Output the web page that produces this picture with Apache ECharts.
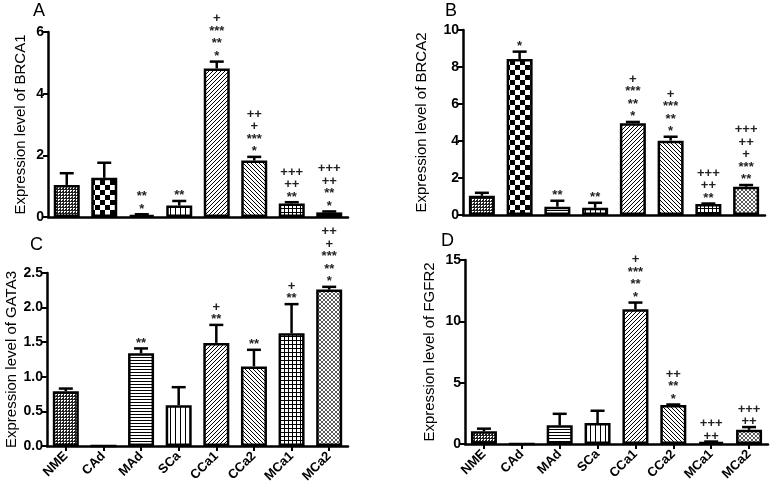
<!DOCTYPE html>
<html>
<head>
<meta charset="utf-8">
<script src="https://cdn.jsdelivr.net/npm/echarts@6/dist/echarts.min.js"></script>
<style>html,body{margin:0;padding:0;background:#fff}#c{width:774px;height:493px}</style>
</head>
<body>
<div id="c"></div>
<script>
const categories = ['NME','CAd','MAd','SCa','CCa1','CCa2','MCa1','MCa2'];

const brca1Mean = [1.04, 1.27, 0.06, 0.37, 4.82, 1.83, 0.44, 0.15];
const brca1ErrTop = [1.42, 1.76, 0.09, 0.52, 5.04, 1.95, 0.48, 0.18];
const brca1Sig = [[], [], ['**','*'], ['**'], ['+','***','**','*'], ['++','+','***','*'], ['+++','++','**'], ['+++','++','**','*']];

const brca2Mean = [1.04, 8.43, 0.45, 0.39, 4.96, 4.02, 0.59, 1.53];
const brca2ErrTop = [1.2, 8.83, 0.77, 0.66, 5.03, 4.23, 0.62, 1.62];
const brca2Sig = [[], ['*'], ['**'], ['**'], ['+','***','**','*'], ['+','***','**','*'], ['+++','++','**'], ['+++','++','+','***','**']];

const gata3Mean = [0.79, 0.0, 1.34, 0.59, 1.49, 1.15, 1.63, 2.26];
const gata3ErrTop = [0.83, 0.0, 1.41, 0.85, 1.75, 1.39, 2.05, 2.30];
const gata3Sig = [[], [], ['**'], [], ['+','**'], ['**'], ['+','**'], ['++','+','***','**','*']];

const fgfr2Mean = [1.03, 0.0, 1.52, 1.71, 10.98, 3.17, 0.16, 1.16];
const fgfr2ErrTop = [1.25, 0.0, 2.46, 2.71, 11.53, 3.22, 0.2, 1.38];
const fgfr2Sig = [[], [], [], [], ['+','***','**','*'], ['++','**','*'], ['+++','++'], ['+++','++']];

const yNames = ['Expression level of BRCA1','Expression level of BRCA2','Expression level of GATA3','Expression level of FGFR2'];
const yMax = [6, 10, 2.5, 15];
const yInterval = [2, 2, 0.5, 5];
const panelLetters = ['A','B','C','D'];

function mk(w, h, draw) {
  const c = document.createElement('canvas');
  c.width = w; c.height = h;
  const g = c.getContext('2d');
  g.fillStyle = '#fff'; g.fillRect(0, 0, w, h);
  g.fillStyle = '#000'; g.strokeStyle = '#000';
  draw(g, w, h);
  return { image: c, repeat: 'repeat' };
}
const patterns = [
  mk(3, 3, g => { g.fillStyle = '#222'; g.fillRect(0,0,3,1); g.fillRect(0,0,1,3); g.fillRect(2,2,1,1); }),
  mk(10, 10, g => { g.fillRect(0,0,5,5); g.fillRect(5,5,5,5); }),
  mk(4, 3, g => { g.fillRect(0,0,4,1); }),
  mk(5, 4, g => { g.fillRect(0,0,1,4); }),
  mk(4, 4, g => { g.lineWidth = 1; g.beginPath(); g.moveTo(-1,5); g.lineTo(5,-1); g.moveTo(-1,1); g.lineTo(1,-1); g.moveTo(3,5); g.lineTo(5,3); g.stroke(); }),
  mk(4, 4, g => { g.lineWidth = 1; g.beginPath(); g.moveTo(-1,-1); g.lineTo(5,5); g.moveTo(3,-1); g.lineTo(5,1); g.moveTo(-1,3); g.lineTo(1,5); g.stroke(); }),
  mk(4, 4, g => { g.fillRect(0,0,4,1); g.fillRect(0,0,1,4); }),
  mk(4, 4, g => { g.strokeStyle = '#333'; g.lineWidth = 0.8; g.beginPath();
    g.moveTo(-1,5); g.lineTo(5,-1); g.moveTo(-1,1); g.lineTo(1,-1); g.moveTo(3,5); g.lineTo(5,3);
    g.moveTo(-1,-1); g.lineTo(5,5); g.moveTo(3,-1); g.lineTo(5,1); g.moveTo(-1,3); g.lineTo(1,5); g.stroke(); })
];

const means = [brca1Mean, brca2Mean, gata3Mean, fgfr2Mean];
const errTops = [brca1ErrTop, brca2ErrTop, gata3ErrTop, fgfr2ErrTop];
const sigs = [brca1Sig, brca2Sig, gata3Sig, fgfr2Sig];

const grids = [
  { left: 48, top: 32, width: 300, height: 185 },
  { left: 463, top: 30, width: 302, height: 185 },
  { left: 47, top: 273, width: 301, height: 173 },
  { left: 465, top: 260, width: 303, height: 184 }
];
const nameGaps = [20, 34, 27, 28];

const font = 'Liberation Sans, Arial, sans-serif';
const xAxes = [], yAxes = [], series = [];
for (let p = 0; p < 4; p++) {
  const bottom = p >= 2;
  xAxes.push({
    type: 'category', gridIndex: p, data: categories,
    axisLine: { lineStyle: { color: '#000', width: 2.5 } },
    axisTick: { show: bottom, alignWithLabel: true, length: 5, lineStyle: { color: '#000', width: 2 } },
    axisLabel: { show: bottom, rotate: 45, margin: 8, color: '#000', fontWeight: 'bold', fontSize: 13, fontFamily: font, interval: 0 }
  });
  yAxes.push({
    type: 'value', gridIndex: p, min: 0, max: yMax[p], interval: yInterval[p],
    name: yNames[p], nameLocation: 'middle', nameGap: nameGaps[p],
    nameTextStyle: { color: '#000', fontSize: 15, fontFamily: font },
    splitLine: { show: false },
    axisLine: { show: true, lineStyle: { color: '#000', width: 2.5 } },
    axisTick: { show: true, length: 5, lineStyle: { color: '#000', width: 2 } },
    axisLabel: { color: '#000', fontWeight: 'bold', fontSize: 14, fontFamily: font, margin: 4,
      formatter: v => p === 2 ? v.toFixed(1) : String(v) }
  });
  series.push({
    type: 'bar', xAxisIndex: p, yAxisIndex: p, barWidth: 26, z: 2,
    data: means[p].map((v, i) => ({ value: v, itemStyle: { color: patterns[i] } })),
    itemStyle: { borderColor: '#000', borderWidth: 2.5 },
    emphasis: { disabled: true }, animation: false
  });
  const sg = sigs[p];
  series.push({
    type: 'custom', xAxisIndex: p, yAxisIndex: p, z: 5, animation: false,
    data: means[p].map((v, i) => [i, v, errTops[p][i]]),
    encode: { x: 0, y: 2 },
    renderItem: (params, api) => {
      const i = api.value(0), m = api.value(1), e = api.value(2);
      const p0 = api.coord([i, m]), p1 = api.coord([i, e]);
      const children = [];
      if (e > m) {
        children.push({ type: 'line', shape: { x1: p0[0], y1: p0[1], x2: p1[0], y2: p1[1] }, style: { stroke: '#000', lineWidth: 2.5 } });
        children.push({ type: 'line', shape: { x1: p1[0] - 7, y1: p1[1], x2: p1[0] + 7, y2: p1[1] }, style: { stroke: '#000', lineWidth: 2.5 } });
      }
      const s = sg[params.dataIndex];
      if (s.length) {
        children.push({ type: 'text', style: { text: s.join('\n'), x: p1[0], y: p1[1] + 1, align: 'center', verticalAlign: 'bottom',
          font: 'bold 13px ' + font, lineHeight: 12.5, fill: '#222' } });
      }
      return { type: 'group', children };
    }
  });
}

const letterPos = [[33, 2], [445, 2], [30, 236], [441, 232]];
const chart = echarts.init(document.getElementById('c'), null, { renderer: 'canvas' });
chart.setOption({
  animation: false,
  backgroundColor: '#fff',
  grid: grids,
  xAxis: xAxes,
  yAxis: yAxes,
  series: series,
  graphic: panelLetters.map((t, k) => ({ type: 'text', left: letterPos[k][0], top: letterPos[k][1],
    style: { text: t, font: '18px ' + font, fill: '#000' } }))
});
</script>
</body>
</html>
